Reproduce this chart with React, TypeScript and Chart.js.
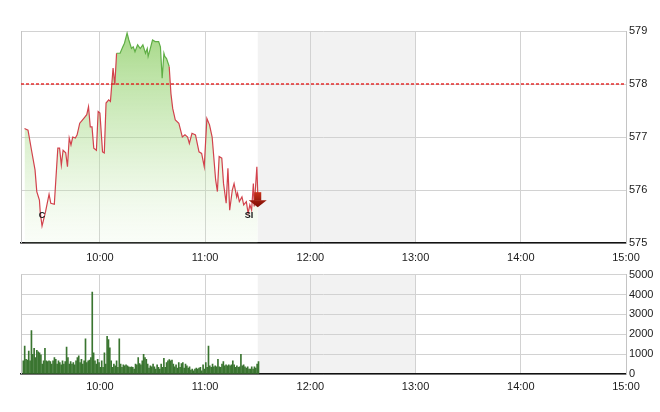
import { useEffect, useRef } from "react";
import { Chart, registerables } from "chart.js";

Chart.register(...registerables);

// ---- axis / session constants (minutes since midnight) ----
const SESSION_START = 555; // 09:15
const SESSION_END = 900; // 15:00
const BREAK_START = 690; // 11:30
const BREAK_END = 780; // 13:00
const HOUR_TICKS = [600, 660, 720, 780, 840, 900];
const HOUR_LABELS = ["10:00", "11:00", "12:00", "13:00", "14:00", "15:00"];
const PRICE_MIN = 575;
const PRICE_MAX = 579;
const REF_PRICE = 578;
const VOL_MIN = 0;
const VOL_MAX = 5000;

// ---- price series ----
const priceTimes = [
  557, 559, 561, 563, 564, 565.5, 566, 567, 569, 571,
  572, 574, 576, 577, 578, 579, 580.5, 581.5, 582.5, 583.5,
  584.5, 586, 587, 588.5, 590, 591.5, 592.5, 593.5, 594.5, 595.5,
  596.5, 598, 599, 600, 601.5, 602.5, 603.5, 605, 606, 607.5,
  608.5, 609.5, 611.5, 613, 614, 615.5, 616.5, 618, 619, 620,
  621.5, 623, 624.5, 626, 627, 627.5, 628.5, 630, 631.5, 633.5,
  634.5, 635.5, 636.5, 637, 638, 639.5, 640.5, 641.5, 643, 645,
  647, 648.5, 650, 651, 652.5, 654.5, 656.5, 658, 659.5, 661,
  662.5, 664, 666, 667, 668, 669.5, 670.5, 672, 673, 674,
  675.5, 676.5, 678, 678.5, 679.5, 681, 682, 683.5, 684.5, 685.5,
  686.5, 687.5, 688, 689.5, 690,
];
const priceValues = [
  577.16, 577.13, 576.75, 576.38, 575.97, 575.81, 575.57, 575.32, 575.59, 575.92,
  575.75, 575.73, 576.79, 576.79, 576.47, 576.75, 576.7, 576.44, 576.98, 576.85,
  577.0, 576.98, 577.04, 577.26, 577.32, 577.38, 577.42, 577.57, 577.19, 577.19,
  576.79, 576.75, 577.48, 577.45, 576.72, 576.7, 577.64, 577.7, 577.67, 578.3,
  577.98, 578.58, 578.58, 578.7, 578.77, 578.96, 578.83, 578.67, 578.7, 578.61,
  578.74, 578.67, 578.74, 578.58, 578.67, 578.52, 578.64, 578.83, 578.8, 578.8,
  578.7, 578.11, 578.58, 578.52, 578.48, 578.33, 577.82, 577.54, 577.32, 577.26,
  577.0, 577.04, 577.0, 576.88, 577.07, 577.04, 576.72, 576.69, 576.44, 577.35,
  577.23, 577.0, 576.19, 575.97, 576.63, 576.6, 576.12, 575.75, 576.41, 575.62,
  576.0, 576.12, 575.87, 575.94, 575.78, 575.87, 575.72, 575.78, 575.56, 575.72,
  575.62, 576.12, 575.69, 576.44, 575.94,
];

// ---- small annotation marks on the price panel ----
const markTimes = [567, 685];
const markPrices = [575.51, 575.51];
const markLabels = ["C", "SI"];

// ---- volume series (evenly spaced bars from VOL_FIRST to VOL_LAST) ----
const VOL_FIRST = 556.33;
const VOL_LAST = 690.43;
const volumes = [
  660, 1400, 740, 700, 1150, 660, 2180, 990, 1290, 825,
  1190, 1120, 1070, 960, 500, 660, 1290, 660, 630, 660,
  630, 500, 660, 825, 740, 500, 660, 580, 460, 660,
  500, 630, 1350, 825, 500, 630, 500, 580, 460, 660,
  825, 910, 580, 740, 500, 660, 1770, 580, 660, 700,
  825, 4125,
  1070, 660, 500, 740, 580, 330, 660, 330, 1070, 500,
  1900, 1730, 1320, 660, 330, 500, 410, 660, 330, 1770,
  500, 330, 460, 410, 460, 410, 360, 330, 360, 330,
  250, 500, 460, 825, 530, 460, 660, 990, 825, 740,
  500, 300, 410, 360, 500, 360, 250, 460, 330, 250,
  500, 330, 790, 330, 580, 660, 725, 660, 700, 500,
  360, 460, 300, 580, 330, 530, 580, 300, 500, 410,
  300, 360, 200, 250, 165, 250, 300, 250, 300, 330,
  165, 460, 250, 580, 330, 1400, 410, 330, 500, 360,
  410, 360, 740, 360, 330, 500, 630, 410, 460, 410,
  460, 410, 460, 660, 460, 330, 410, 330, 360, 990,
  410, 460, 360, 300, 360, 250, 250, 360, 250, 360,
  300, 500, 630,
];

const FONT = { family: "'Liberation Sans', Arial, sans-serif", size: 11 };
const TEXT = "#1a1a1a";
const GRID = "#d2d2d2";
const FRAME = "#c4c4c4";

const framePlugin = {
  id: "frameShade",
  beforeDraw(chart: any) {
    const { ctx, chartArea, scales } = chart;
    if (!chartArea) return;
    const x0 = scales.x.getPixelForValue(BREAK_START);
    const x1 = scales.x.getPixelForValue(BREAK_END);
    ctx.save();
    ctx.fillStyle = "#f2f2f2";
    ctx.fillRect(x0, chartArea.top, x1 - x0, chartArea.bottom - chartArea.top);
    ctx.restore();
  },
  beforeDatasetsDraw(chart: any) {
    const { ctx, chartArea } = chart;
    ctx.save();
    ctx.strokeStyle = FRAME;
    ctx.lineWidth = 1;
    ctx.beginPath();
    ctx.moveTo(chartArea.left + 0.5, chartArea.top);
    ctx.lineTo(chartArea.left + 0.5, chartArea.bottom);
    ctx.stroke();
    ctx.restore();
  },
};

const arrowPlugin = {
  id: "lastArrow",
  afterDatasetsDraw(chart: any) {
    const meta = chart.getDatasetMeta(2);
    const pts = meta.data;
    if (!pts.length) return;
    const { x, y } = pts[pts.length - 1];
    const ctx = chart.ctx;
    ctx.save();
    const g = ctx.createLinearGradient(0, y - 1, 0, y + 14);
    g.addColorStop(0, "#c8321c");
    g.addColorStop(1, "#7a0a02");
    ctx.fillStyle = g;
    ctx.fillRect(x - 3.5, y - 1, 7, 8.5);
    ctx.beginPath();
    ctx.moveTo(x - 9, y + 7);
    ctx.lineTo(x + 9, y + 7);
    ctx.lineTo(x, y + 14);
    ctx.closePath();
    ctx.fill();
    // marks
    ctx.fillStyle = "#111";
    ctx.font = "bold 9px 'Liberation Sans', Arial, sans-serif";
    ctx.textAlign = "center";
    ctx.textBaseline = "middle";
    markLabels.forEach((t, i) => {
      ctx.fillText(
        t,
        chart.scales.x.getPixelForValue(markTimes[i]),
        chart.scales.y.getPixelForValue(markPrices[i])
      );
    });
    ctx.restore();
  },
};

function timeAxis(height: number, padding: number) {
  return {
    type: "linear" as const,
    min: SESSION_START,
    max: SESSION_END,
    offset: false,
    afterBuildTicks: (scale: any) => {
      scale.ticks = HOUR_TICKS.map((v) => ({ value: v }));
    },
    afterFit: (scale: any) => {
      scale.height = height;
    },
    ticks: {
      autoSkip: false,
      maxRotation: 0,
      padding,
      color: TEXT,
      font: FONT,
      callback: (_v: any, i: number) => HOUR_LABELS[i],
    },
    grid: { color: GRID, drawTicks: false, offset: false },
    border: { color: "#111", width: 1.5 },
  };
}

export default function App() {
  const topRef = useRef<HTMLCanvasElement>(null);
  const botRef = useRef<HTMLCanvasElement>(null);

  useEffect(() => {
    const priceData = priceTimes.map((t, i) => ({ x: t, y: priceValues[i] }));
    const volStep = (VOL_LAST - VOL_FIRST) / (volumes.length - 1);
    const volData = volumes.map((v, i) => ({ x: VOL_FIRST + i * volStep, y: v }));

    const top = new Chart(topRef.current!, {
      type: "line",
      data: {
        datasets: [
          {
            label: "ref",
            data: [
              { x: SESSION_START, y: REF_PRICE },
              { x: SESSION_END, y: REF_PRICE },
            ],
            borderColor: "rgba(228,24,24,0.9)",
            borderWidth: 1.5,
            borderDash: [3, 2],
            pointRadius: 0,
            fill: false,
            order: 0,
          },
          {
            label: "area",
            data: priceData,
            borderWidth: 0,
            borderColor: "rgba(0,0,0,0)",
            pointRadius: 0,
            tension: 0,
            fill: "start",
            order: 2,
            backgroundColor: (c: any) => {
              const area = c.chart.chartArea;
              if (!area) return "rgba(170,220,140,0.4)";
              const g = c.chart.ctx.createLinearGradient(0, area.top, 0, area.bottom);
              g.addColorStop(0, "rgba(140,205,100,0.78)");
              g.addColorStop(0.5, "rgba(170,220,140,0.45)");
              g.addColorStop(1, "rgba(215,240,200,0.12)");
              return g;
            },
          },
          {
            label: "price",
            data: priceData,
            borderColor: "#d2424c",
            borderWidth: 1.2,
            pointRadius: 0,
            tension: 0,
            fill: false,
            order: 1,
            segment: {
              borderColor: (c: any) =>
                c.p0.parsed.y >= REF_PRICE && c.p1.parsed.y >= REF_PRICE ? "#5fae45" : "#d2424c",
            },
          },
        ],
      },
      options: {
        responsive: false,
        animation: false,
        layout: { padding: { top: 31, left: 21, right: 0, bottom: 0 } },
        plugins: { legend: { display: false }, tooltip: { enabled: false } },
        scales: {
          x: timeAxis(22, 8) as any,
          y: {
            position: "right",
            min: PRICE_MIN,
            max: PRICE_MAX,
            afterFit: (s: any) => {
              s.width = 34;
            },
            ticks: { stepSize: 1, padding: 3, color: TEXT, font: FONT },
            grid: { color: GRID, drawTicks: false },
            border: { color: FRAME },
          },
        },
      },
      plugins: [framePlugin, arrowPlugin],
    });

    const bot = new Chart(botRef.current!, {
      type: "bar",
      data: {
        datasets: [
          {
            label: "volume",
            data: volData,
            backgroundColor: "#3a7530",
            borderWidth: 0,
            barThickness: 1,
          },
        ],
      },
      options: {
        responsive: false,
        animation: false,
        layout: { padding: { top: 7, left: 21, right: 0, bottom: 0 } },
        plugins: { legend: { display: false }, tooltip: { enabled: false } },
        scales: {
          x: timeAxis(38, 6) as any,
          y: {
            position: "right",
            min: VOL_MIN,
            max: VOL_MAX,
            afterFit: (s: any) => {
              s.width = 34;
            },
            ticks: {
              stepSize: 1000,
              padding: 3,
              color: TEXT,
              font: FONT,
              callback: (v: any) => String(v),
            },
            grid: { color: GRID, drawTicks: false },
            border: { color: FRAME },
          },
        },
      },
      plugins: [framePlugin],
    });

    return () => {
      top.destroy();
      bot.destroy();
    };
  }, []);

  return (
    <div
      style={{
        position: "fixed",
        left: 0,
        top: 0,
        width: 660,
        height: 412,
        background: "#fff",
      }}
    >
      <canvas
        ref={topRef}
        width={660}
        height={265}
        style={{ position: "absolute", left: 0, top: 0, display: "block" }}
      />
      <canvas
        ref={botRef}
        width={660}
        height={147}
        style={{ position: "absolute", left: 0, top: 265, display: "block" }}
      />
    </div>
  );
}
